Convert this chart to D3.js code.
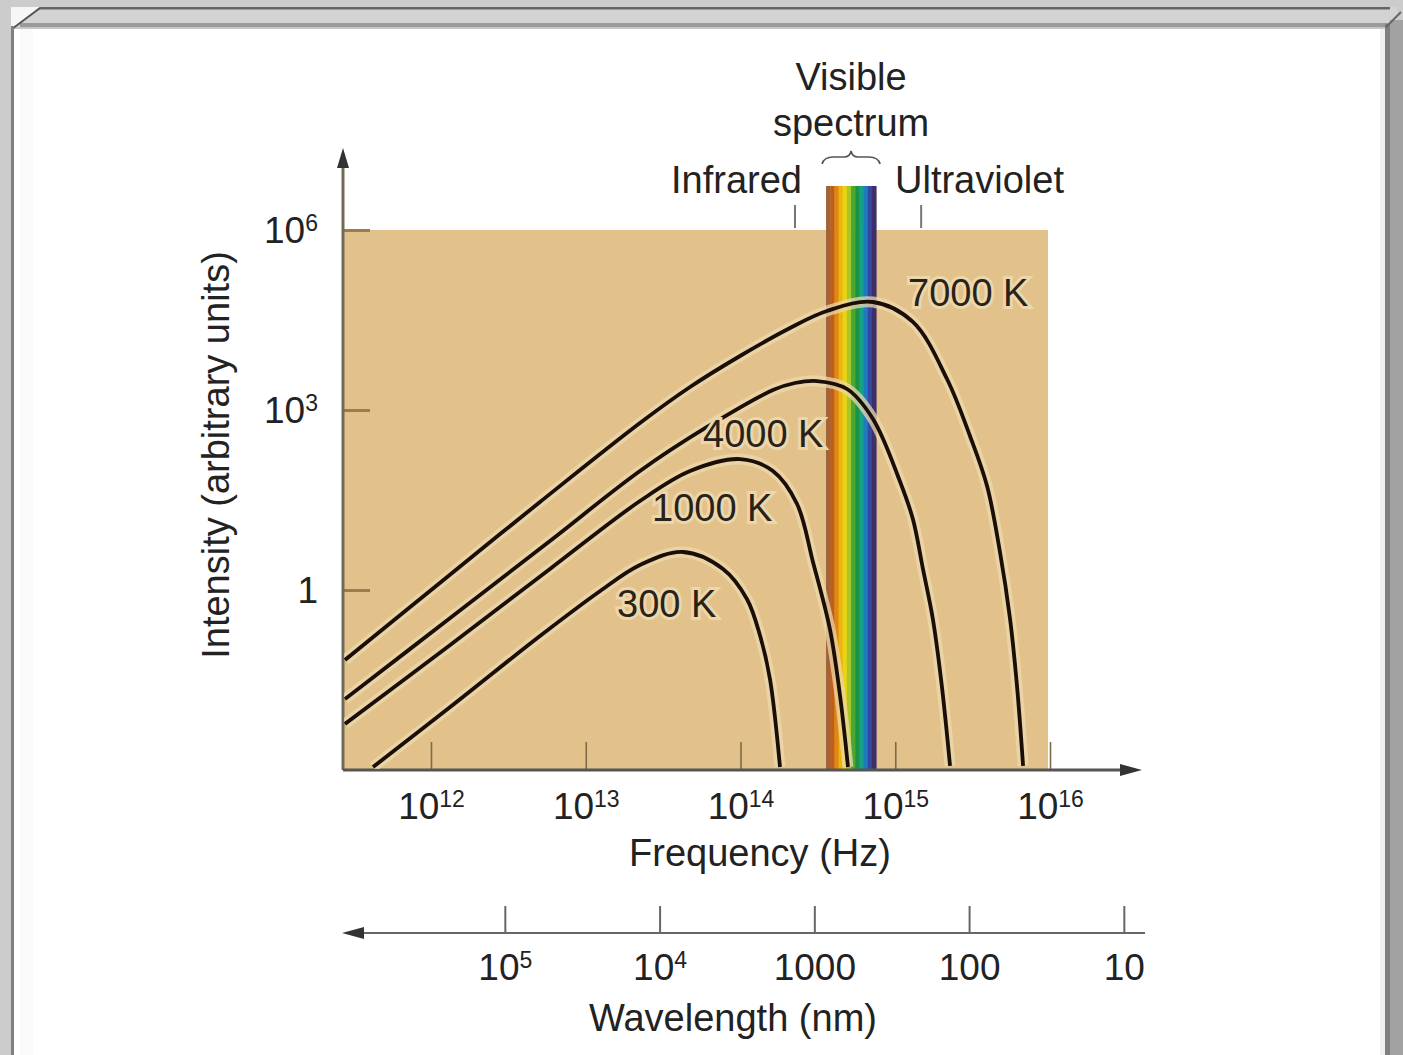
<!DOCTYPE html>
<html lang="en">
<head>
  <meta charset="UTF-8">
  <title>Blackbody radiation</title>
  <script src="https://cdn.jsdelivr.net/npm/d3@7/dist/d3.min.js"></script>
  <style>
  body { margin: 0; background: #cccccc; }
  svg text {
    font-family: 'Liberation Sans', Arial, sans-serif;
    fill: #222;
  }
  .tituloEje { font-size: 38px; }
  .etiqueta { font-size: 38px; }
  .etiquetaCurva {
    font-size: 38px;
    fill: #2a2218;
    stroke: #ecd7ab;
    stroke-width: 6px;
    paint-order: stroke;
  }
  .tick text { font-size: 37px; fill: #222; }
  </style>
</head>
<body>
<div id="grafico"></div>
<script>
  // datos (frecuencia en Hz, intensidad arbitraria)
  var curvas = ["7000 K", "4000 K", "1000 K", "300 K"];

  var freq7000 = [2.78e11, 1.14e12, 5.06e12, 2.24e13, 4.72e13, 9.93e13, 2.09e14, 3.62e14, 7.18e14, 1.30e15, 2.16e15, 3.04e15, 3.92e15, 4.75e15, 5.52e15, 6.12e15, 6.70e15];
  var int7000  = [0.0681, 1.31, 29.3, 607, 2417, 7943, 23280, 44668, 63096, 29309, 3289, 369, 54.1, 4.30, 0.329, 0.0251, 0.00117];

  var freq4000 = [2.78e11, 1.33e12, 5.87e12, 2.24e13, 6.08e13, 1.62e14, 2.25e14, 3.12e14, 4.88e14, 7.18e14, 1.07e15, 1.30e15, 1.51e15, 1.75e15, 2.00e15, 2.26e15];
  var int4000  = [0.0152, 0.341, 6.56, 96.2, 521, 2154, 2818, 3041, 2239, 708, 65.6, 15.2, 2.24, 0.329, 0.0251, 0.00117];

  var freq1000 = [2.78e11, 1.33e12, 5.87e12, 2.24e13, 4.72e13, 9.93e13, 1.62e14, 2.32e14, 2.94e14, 3.78e14, 4.40e14, 4.95e14];
  var int1000  = [0.00585, 0.121, 2.24, 30.4, 96.2, 152, 96.2, 27.1, 2.93, 0.224, 0.0171, 0.00112];

  var freq300 = [4.22e11, 1.33e12, 5.06e12, 1.24e13, 2.24e13, 4.25e13, 7.71e13, 1.10e14, 1.34e14, 1.55e14, 1.80e14];
  var int300  = [0.00112, 0.0112, 0.171, 0.962, 2.61, 4.30, 2.24, 0.708, 0.171, 0.0329, 0.00112];

  var freqTicks = [1e12, 1e13, 1e14, 1e15, 1e16];
  var freqTickLabels = [["10", "12"], ["10", "13"], ["10", "14"], ["10", "15"], ["10", "16"]];
  var intTicks = [1, 1e3, 1e6];
  var intTickLabels = [["1", ""], ["10", "3"], ["10", "6"]];
  var wlTicks = [1e5, 1e4, 1000, 100, 10];
  var wlTickLabels = [["10", "5"], ["10", "4"], ["1000", ""], ["100", ""], ["10", ""]];

  // banda visible y limites IR / UV
  var bandaFreq = [3.57e14, 7.52e14];
  var bandaColores = ['#a0643a', '#bf5e1c', '#de8714', '#ecb40e', '#e6d416', '#a8c626', '#4aa832', '#1c9242', '#16a08a', '#1f7cbc', '#3448a0', '#3f2f66'];
  var limiteIR = 2.25e14;
  var limiteUV = 1.47e15;

  var w = 1403, h = 1055;
  var ejeIzq = 343, ejeAbajo = 770;

  var svg = d3.select("#grafico").append("svg")
    .attr("width", w)
    .attr("height", h);

  //Marco de la ventana
  svg.append("rect").attr("width", w).attr("height", h).attr("fill", "#cccccc");
  svg.append("rect").attr("x", 11).attr("y", 7).attr("width", 1386).attr("height", 22).attr("fill", "#d3d3d3");
  svg.append("rect").attr("x", 30).attr("y", 7).attr("width", 1360).attr("height", 2.5).attr("fill", "#666");
  svg.append("rect").attr("x", 20).attr("y", 23).attr("width", 1370).attr("height", 4).attr("fill", "#9a9a9a");
  svg.append("rect").attr("x", 14).attr("y", 27).attr("width", 1376).attr("height", 2).attr("fill", "#c6c6c6");
  svg.append("polygon").attr("points", "11,7 40,7 11,29").attr("fill", "#f6f6f6");
  svg.append("line").attr("x1", 12).attr("y1", 29).attr("x2", 40).attr("y2", 8).attr("stroke", "#555").attr("stroke-width", 2);
  svg.append("rect").attr("x", 11).attr("y", 26).attr("width", 3).attr("height", h).attr("fill", "#808080");
  svg.append("rect").attr("x", 14).attr("y", 29).attr("width", 1371).attr("height", h).attr("fill", "#fff");
  svg.append("rect").attr("x", 20).attr("y", 29).attr("width", 13).attr("height", h).attr("fill", "#fafafa");
  svg.append("rect").attr("x", 1380).attr("y", 29).attr("width", 5).attr("height", h).attr("fill", "#f0f0f0");
  svg.append("rect").attr("x", 1385).attr("y", 24).attr("width", 5).attr("height", h).attr("fill", "#7f7f7f");
  svg.append("rect").attr("x", 1390).attr("y", 20).attr("width", 13).attr("height", h).attr("fill", "#a2a2a2");
  svg.append("line").attr("x1", 1386).attr("y1", 27).attr("x2", 1401).attr("y2", 12).attr("stroke", "#666").attr("stroke-width", 2);

  //Escalas
  var x = d3.scaleLog().domain([1e12, 1e16]).range([431, 1050]);
  var y = d3.scaleLog().domain([1e-3, 1e6]).range([ejeAbajo, 230]);
  var xWl = d3.scaleLog().domain([3e5, 30]).range([431, 1050]);

  //Fondo del grafico
  svg.append("rect")
    .attr("x", ejeIzq)
    .attr("y", y(1e6))
    .attr("width", x(1e16) - 2 - ejeIzq)
    .attr("height", ejeAbajo - y(1e6))
    .attr("fill", "#e2c18b");

  //Banda del espectro visible
  var bandaX0 = x(bandaFreq[0]), bandaX1 = x(bandaFreq[1]);
  var anchoFranja = (bandaX1 - bandaX0) / bandaColores.length;
  svg.selectAll(".franja")
    .data(bandaColores)
    .enter()
    .append("rect")
    .attr("class", "franja")
    .attr("x", function(d, i) { return bandaX0 + i * anchoFranja; })
    .attr("y", y(1e6) - 44)
    .attr("width", anchoFranja + 0.5)
    .attr("height", ejeAbajo - y(1e6) + 44)
    .attr("fill", function(d) { return d; });

  //Ejes
  var xAxis = d3.axisBottom(x).tickValues(freqTicks).tickSizeInner(-28).tickSizeOuter(0).tickPadding(16).tickFormat("");
  var ejeX = svg.append("g")
    .attr("transform", "translate(0," + ejeAbajo + ")")
    .call(xAxis);
  ejeX.select(".domain").remove();
  ejeX.selectAll(".tick line").attr("stroke", "#7d6c48").attr("stroke-width", 1.6);

  var yAxis = d3.axisLeft(y).tickValues(intTicks).tickSizeInner(-27).tickSizeOuter(0).tickPadding(25).tickFormat("");
  var ejeY = svg.append("g")
    .attr("transform", "translate(" + ejeIzq + ",0)")
    .call(yAxis);
  ejeY.select(".domain").remove();
  ejeY.selectAll(".tick line").attr("stroke", "#9c7c4c").attr("stroke-width", 3);

  var wlAxis = d3.axisBottom(xWl).tickValues(wlTicks).tickSizeInner(-27).tickSizeOuter(0).tickPadding(14).tickFormat("");
  var ejeWl = svg.append("g")
    .attr("transform", "translate(0,933)")
    .call(wlAxis);
  ejeWl.select(".domain").remove();
  ejeWl.selectAll(".tick line").attr("stroke", "#666").attr("stroke-width", 2);

  // etiquetas con exponente
  function conExponente(sel, etiquetas, dyBase) {
    sel.selectAll(".tick text").each(function(d, i) {
      var t = d3.select(this).attr("dy", dyBase);
      t.append("tspan").text(etiquetas[i][0]);
      if (etiquetas[i][1] != "") {
        t.append("tspan").attr("dy", -12).attr("font-size", "23px").text(etiquetas[i][1]);
      }
    });
  }
  conExponente(ejeX, freqTickLabels, "0.9em");
  conExponente(ejeY, intTickLabels, "0.33em");
  conExponente(ejeWl, wlTickLabels, "0.9em");

  // lineas de ejes con flecha
  svg.append("line").attr("x1", ejeIzq).attr("y1", ejeAbajo).attr("x2", ejeIzq).attr("y2", 165)
    .attr("stroke", "#6f6a58").attr("stroke-width", 3);
  svg.append("path").attr("d", "M" + ejeIzq + ",148 L" + (ejeIzq - 6) + ",168 L" + (ejeIzq + 6) + ",168 Z").attr("fill", "#333");
  svg.append("line").attr("x1", ejeIzq).attr("y1", ejeAbajo).attr("x2", 1125).attr("y2", ejeAbajo)
    .attr("stroke", "#555").attr("stroke-width", 3);
  svg.append("path").attr("d", "M1142," + ejeAbajo + " L1120," + (ejeAbajo - 6) + " L1120," + (ejeAbajo + 6) + " Z").attr("fill", "#333");
  svg.append("line").attr("x1", 360).attr("y1", 933).attr("x2", 1145).attr("y2", 933)
    .attr("stroke", "#666").attr("stroke-width", 2);
  svg.append("path").attr("d", "M342,933 L364,927 L364,939 Z").attr("fill", "#333");

  //Curvas
  var series = [
    d3.zip(freq7000, int7000),
    d3.zip(freq4000, int4000),
    d3.zip(freq1000, int1000),
    d3.zip(freq300, int300)
  ];

  svg.append("clipPath").attr("id", "recorte")
    .append("rect").attr("x", ejeIzq + 1).attr("y", 0).attr("width", 800).attr("height", ejeAbajo - 1);

  var linea = d3.line()
    .x(function(d) { return x(d[0]); })
    .y(function(d) { return y(d[1]); })
    .curve(d3.curveCatmullRom.alpha(0.5));

  var gCurvas = svg.append("g").attr("clip-path", "url(#recorte)");
  gCurvas.selectAll(".halo")
    .data(series)
    .enter()
    .append("path")
    .attr("d", linea)
    .attr("fill", "none")
    .attr("stroke", "#ecd8ae")
    .attr("stroke-opacity", 0.75)
    .attr("stroke-width", 11);
  gCurvas.selectAll(".curva")
    .data(series)
    .enter()
    .append("path")
    .attr("class", "curva")
    .attr("d", linea)
    .attr("fill", "none")
    .attr("stroke", "#1a0e06")
    .attr("stroke-width", 3.8);

  //Etiquetas de las curvas
  var posEtiquetas = [[908, 306], [703, 447], [652, 521], [617, 617]];
  svg.selectAll(".etiquetaCurva")
    .data(curvas)
    .enter()
    .append("text")
    .attr("class", "etiquetaCurva")
    .attr("x", function(d, i) { return posEtiquetas[i][0]; })
    .attr("y", function(d, i) { return posEtiquetas[i][1]; })
    .text(function(d) { return d; });

  //Infrarrojo, ultravioleta y espectro visible
  svg.append("line").attr("x1", x(limiteIR)).attr("x2", x(limiteIR)).attr("y1", 205).attr("y2", 228)
    .attr("stroke", "#777").attr("stroke-width", 2);
  svg.append("line").attr("x1", x(limiteUV)).attr("x2", x(limiteUV)).attr("y1", 205).attr("y2", 228)
    .attr("stroke", "#777").attr("stroke-width", 2);
  svg.append("text").attr("class", "etiqueta").attr("x", 802).attr("y", 193).attr("text-anchor", "end").text("Infrared");
  svg.append("text").attr("class", "etiqueta").attr("x", 895).attr("y", 193).text("Ultraviolet");
  var centroBanda = (bandaX0 + bandaX1) / 2;
  svg.append("text").attr("class", "etiqueta").attr("x", centroBanda).attr("y", 90).attr("text-anchor", "middle").text("Visible");
  svg.append("text").attr("class", "etiqueta").attr("x", centroBanda).attr("y", 136).attr("text-anchor", "middle").text("spectrum");

  // llave
  var c = centroBanda, b0 = bandaX0 - 4, b1 = bandaX1 + 4;
  svg.append("path")
    .attr("d", "M" + b0 + ",164 Q" + (b0 + 2) + ",157 " + (b0 + 11) + ",157 L" + (c - 7) + ",157 Q" + (c - 1) + ",157 " + c + ",151" +
               " Q" + (c + 1) + ",157 " + (c + 7) + ",157 L" + (b1 - 11) + ",157 Q" + (b1 - 2) + ",157 " + b1 + ",164")
    .attr("fill", "none")
    .attr("stroke", "#555")
    .attr("stroke-width", 1.6);

  //Titulos de ejes
  svg.append("text").attr("class", "tituloEje").attr("x", 760).attr("y", 866).attr("text-anchor", "middle").text("Frequency (Hz)");
  svg.append("text").attr("class", "tituloEje").attr("x", 733).attr("y", 1031).attr("text-anchor", "middle").text("Wavelength (nm)");
  svg.append("text").attr("class", "tituloEje")
    .attr("transform", "translate(229,455) rotate(-90)")
    .attr("text-anchor", "middle")
    .text("Intensity (arbitrary units)");
</script>
</body>
</html>
